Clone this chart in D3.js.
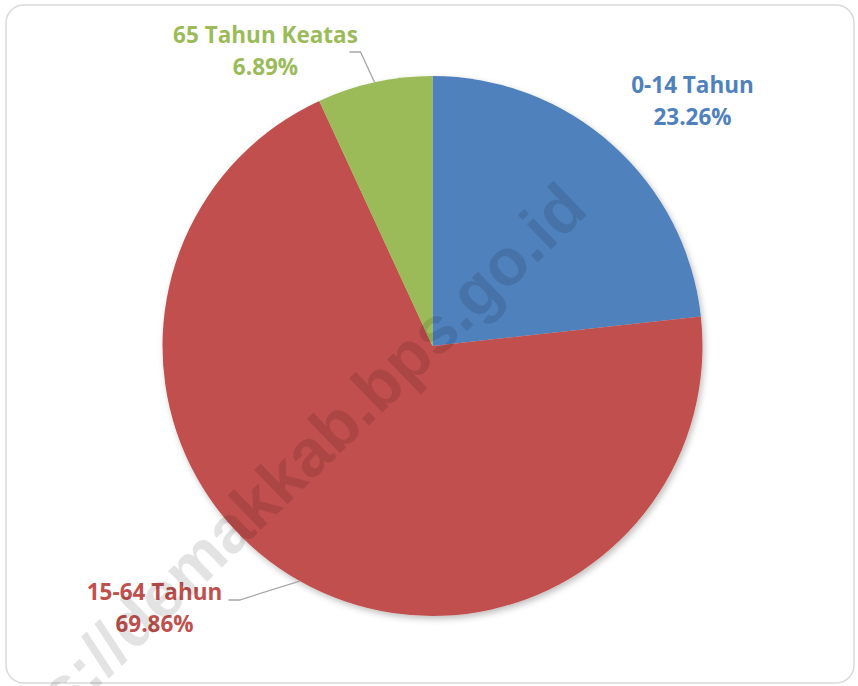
<!DOCTYPE html>
<html>
<head>
<meta charset="utf-8">
<script src="https://cdn.jsdelivr.net/npm/d3@7"></script>
<style>
  body { margin: 0; background: #fff; }
  svg { display: block; }
</style>
</head>
<body>
<div id="chart"></div>
<script>
// data
var categories = ["0-14 Tahun", "15-64 Tahun", "65 Tahun Keatas"];
var shares = [23.26, 69.86, 6.89];
var colors = ["#4F81BD", "#C0504D", "#9BBB59"];

var width = 858, height = 686;
var cx = 432.5, cy = 346, radius = 270;

var svg = d3.select("#chart").append("svg")
    .attr("width", width)
    .attr("height", height);

var defs = svg.append("defs");
var shadow = defs.append("filter").attr("id", "shadow")
    .attr("x", "-10%").attr("y", "-10%").attr("width", "120%").attr("height", "120%");
shadow.append("feDropShadow")
    .attr("dx", 2).attr("dy", 3).attr("stdDeviation", 3)
    .attr("flood-color", "#000").attr("flood-opacity", 0.25);

// chart frame
svg.append("rect")
    .attr("x", 6).attr("y", 5)
    .attr("width", 848).attr("height", 678)
    .attr("rx", 18).attr("ry", 18)
    .attr("fill", "#fff")
    .attr("stroke", "#d9d9d9")
    .attr("stroke-width", 1.5);

var data = categories.map(function(c, i){
    return {name: c, value: shares[i], color: colors[i]};
});

var pie = d3.pie().sort(null).value(d => d.value);
var arc = d3.arc().innerRadius(0).outerRadius(radius);
var arcs = pie(data);

var g = svg.append("g").attr("transform", "translate(" + cx + "," + cy + ")");

g.append("g").attr("filter", "url(#shadow)")
    .selectAll("path")
    .data(arcs)
    .enter()
    .append("path")
    .attr("d", arc)
    .attr("fill", d => d.data.color);

// label placement (relative to pie center), leader lines only for the outside ones
var label_pos = [
    {x: 260, y: -253, leader: false},
    {x: -278, y: 254, leader: true, lx: 74, ly: 0},
    {x: -167, y: -303, leader: true, lx: 84, ly: 9}
];

arcs.forEach(function(a, i){
    var p = label_pos[i];
    var lbl = g.append("text")
        .attr("x", p.x)
        .attr("y", p.y)
        .attr("text-anchor", "middle")
        .attr("fill", a.data.color)
        .style("font-family", "'Open Sans', sans-serif")
        .style("font-weight", "bold")
        .style("font-size", "22.5px");
    lbl.append("tspan").attr("x", p.x).text(a.data.name);
    lbl.append("tspan").attr("x", p.x).attr("dy", 32).text(d3.format(".2f")(a.data.value) + "%");

    if (p.leader){
        // leader meets the slice edge at its middle angle
        var mid = (a.startAngle + a.endAngle) / 2;
        var pt = [Math.sin(mid) * radius, -Math.cos(mid) * radius];
        var pts = [[p.x + p.lx, p.y + p.ly], [p.x + p.lx + 11, p.y + p.ly], pt];
        g.append("path")
            .attr("d", d3.line()(pts))
            .attr("fill", "none")
            .attr("stroke", "#a6a6a6")
            .attr("stroke-width", 1.3);
    }
});

// watermark
svg.append("text")
    .attr("transform", "translate(590,212) rotate(-44)")
    .attr("text-anchor", "end")
    .attr("fill", "#000")
    .attr("fill-opacity", 0.11)
    .style("font-family", "'Liberation Sans', Arial, sans-serif")
    .style("font-weight", "bold")
    .style("font-size", "66px")
    .text("https://demakkab.bps.go.id");
</script>
</body>
</html>
